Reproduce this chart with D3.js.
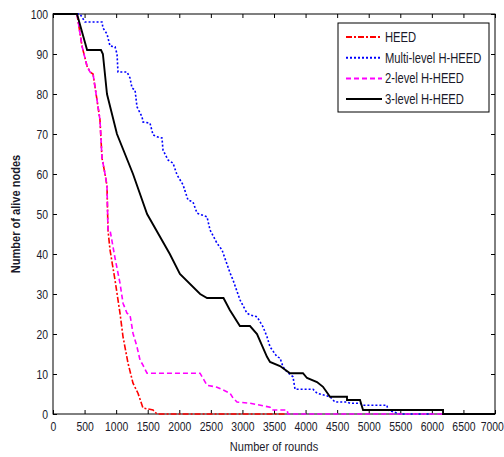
<!DOCTYPE html>
<html>
<head>
<meta charset="utf-8">
<script src="https://cdn.jsdelivr.net/npm/d3@7"></script>
<style>
  body { margin: 0; background: #fff; }
  svg text { font-family: "Liberation Sans", Arial, sans-serif; }
</style>
</head>
<body>
<svg id="chart" width="504" height="457"></svg>
<script>
// rounds vs alive nodes
const heedX = [0, 380, 459, 538, 586, 634, 697, 744, 776, 824, 855, 871, 903, 982, 1061, 1109, 1188, 1267, 1346, 1425, 1584, 1647, 3700];
const heedY = [100, 100, 92, 87, 85.5, 85, 78.5, 73.5, 64, 60, 57, 46, 41, 33.5, 25.2, 19.3, 12.7, 7.7, 5.2, 1.5, 1, 0, 0];

const multiX = [0, 428, 507, 776, 792, 855, 903, 982, 1014, 1029, 1172, 1220, 1251, 1299, 1330, 1410, 1425, 1536, 1584, 1647, 1726, 1742, 1821, 1901, 1964, 2059, 2138, 2217, 2281, 2439, 2487, 2597, 2677, 2803, 2851, 2962, 3072, 3120, 3231, 3326, 3389, 3437, 3548, 3595, 3643, 3706, 3801, 3833, 4118, 4181, 4387, 4466, 4656, 4704, 4862, 4910, 5290, 5300, 5496, 6000];
const multiY = [100, 100, 98, 98, 96.5, 95, 92, 91.8, 90, 85.5, 85.5, 84, 81.5, 81, 76.8, 74.3, 73, 72.7, 69.8, 69.3, 69, 66, 63.5, 62.7, 59.8, 57.3, 53.5, 53, 50.2, 49.3, 46, 42.7, 41, 35.3, 33.5, 28.5, 25.2, 24.8, 24.3, 21.8, 19.3, 16.8, 14.3, 14, 11.8, 10.5, 9.3, 6.2, 6.2, 5.2, 4.3, 3, 3, 2.7, 2.7, 2.2, 2.2, 1, 0, 0];

const twoX = [0, 380, 459, 538, 586, 634, 697, 744, 776, 824, 855, 871, 903, 982, 1061, 1109, 1172, 1220, 1267, 1330, 1378, 1425, 1489, 2328, 2439, 2597, 2803, 2851, 2914, 3120, 3437, 3468, 3706, 3722, 6200];
const twoY = [100, 100, 92, 87, 85.5, 85, 78.5, 73.5, 64, 60, 57, 46, 46, 39, 32.7, 27.7, 25.2, 24.7, 20.2, 16.8, 13.5, 12.2, 10.2, 10.2, 7.2, 6.7, 5.2, 4, 3, 2.7, 1.7, 1, 1, 0, 0];

const threeX = [0, 380, 540, 760, 790, 855, 1013, 1267, 1490, 1850, 2010, 2330, 2440, 2700, 2800, 2960, 3120, 3231, 3389, 3437, 3595, 3754, 3959, 4023, 4181, 4276, 4387, 4656, 4656, 4862, 4910, 6177, 6177, 7000];
const threeY = [100, 100, 91, 91, 90, 80, 70, 60, 50, 40, 35, 30, 29, 29, 26, 22, 22, 20, 14.3, 13, 12, 10.2, 10.2, 9, 8, 6.8, 4.3, 4.3, 3.5, 3.5, 1, 1, 0, 0];

const xTicks = d3.range(0, 7001, 500);
const yTicks = d3.range(0, 101, 10);

const seriesNames = ["HEED", "Multi-level H-HEED", "2-level H-HEED", "3-level H-HEED"];
const seriesX = [heedX, multiX, twoX, threeX];
const seriesY = [heedY, multiY, twoY, threeY];
const seriesColor = ["#ff0000", "#0000ff", "#ff00ff", "#000000"];
const seriesDash = ["6,2,2,2", "2,2", "5,3", null];
const seriesWidth = [1.6, 1.6, 1.6, 1.9];

const svg = d3.select("#chart");
const margin = { top: 14, right: 9, bottom: 43, left: 53 };
const width = 504, height = 457;
const sq = 0.8; // horizontal squeeze, the original uses a narrow font

const x = d3.scaleLinear().domain([0, 7000]).range([margin.left, width - margin.right]);
const y = d3.scaleLinear().domain([0, 100]).range([height - margin.bottom, margin.top]);

// bottom axis (ticks pointing inward, matlab style)
svg.append("g")
    .attr("transform", `translate(0,${y(0)})`)
    .call(d3.axisBottom(x).tickValues(xTicks).tickFormat(d3.format("d")).tickSizeInner(-4).tickSizeOuter(0).tickPadding(8))
    .call(g => g.select(".domain").remove())
    .call(g => g.selectAll("text")
        .style("font-size", "13px").style("fill", "#1a1a2a")
        .attr("transform", `scale(${sq},1)`))
    .call(g => g.selectAll("text").filter(d => d === 7000).attr("dx", -4));

// top ticks
svg.append("g")
    .attr("transform", `translate(0,${y(100)})`)
    .call(d3.axisTop(x).tickValues(xTicks).tickSizeInner(-4).tickSizeOuter(0).tickFormat(""))
    .call(g => g.select(".domain").remove());

// left axis
svg.append("g")
    .attr("transform", `translate(${x(0)},0)`)
    .call(d3.axisLeft(y).tickValues(yTicks).tickSizeInner(-4).tickSizeOuter(0))
    .call(g => g.select(".domain").remove())
    .call(g => g.selectAll("text")
        .style("font-size", "13px").style("fill", "#1a1a2a")
        .attr("x", -5 / sq)
        .attr("transform", `scale(${sq},1)`));

// right ticks
svg.append("g")
    .attr("transform", `translate(${x(7000)},0)`)
    .call(d3.axisRight(y).tickValues(yTicks).tickSizeInner(-4).tickSizeOuter(0).tickFormat(""))
    .call(g => g.select(".domain").remove());

// plot frame
svg.append("rect")
    .attr("x", x(0)).attr("y", y(100))
    .attr("width", x(7000) - x(0)).attr("height", y(0) - y(100))
    .attr("fill", "none").attr("stroke", "#000").attr("stroke-width", 1);

// lines
const line = d3.line()
    .x(d => x(d[0]))
    .y(d => y(d[1]));

seriesNames.forEach((name, i) => {
    const pts = seriesX[i].map((v, j) => [v, seriesY[i][j]]);
    svg.append("path")
        .datum(pts)
        .attr("fill", "none")
        .attr("stroke", seriesColor[i])
        .attr("stroke-width", seriesWidth[i])
        .attr("stroke-dasharray", seriesDash[i])
        .attr("d", line);
});

// legend
const lg = svg.append("g").attr("transform", "translate(338,23)");
lg.append("rect")
    .attr("width", 151).attr("height", 89)
    .attr("fill", "#fff").attr("stroke", "#000").attr("stroke-width", 1);
seriesNames.forEach((name, i) => {
    const ly = 14 + i * 20.7;
    lg.append("line")
        .attr("x1", 8).attr("x2", 44).attr("y1", ly).attr("y2", ly)
        .attr("stroke", seriesColor[i])
        .attr("stroke-width", 2)
        .attr("stroke-dasharray", seriesDash[i]);
    lg.append("text")
        .attr("transform", `translate(47,${ly + 5}) scale(${sq},1)`)
        .style("font-size", "14px")
        .style("fill", "#1a1a2a")
        .text(name);
});

// axis labels
svg.append("text")
    .attr("transform", `translate(${(x(0) + x(7000)) / 2},451) scale(0.85,1)`)
    .attr("text-anchor", "middle")
    .style("font-size", "13px")
    .style("fill", "#1a1a2a")
    .text("Number of rounds");

svg.append("text")
    .attr("transform", `translate(20,${(y(0) + y(100)) / 2}) rotate(-90) scale(0.85,1)`)
    .attr("text-anchor", "middle")
    .style("font-size", "13px")
    .style("font-weight", "bold")
    .style("fill", "#1a1a2a")
    .text("Number of alive nodes");
</script>
</body>
</html>
